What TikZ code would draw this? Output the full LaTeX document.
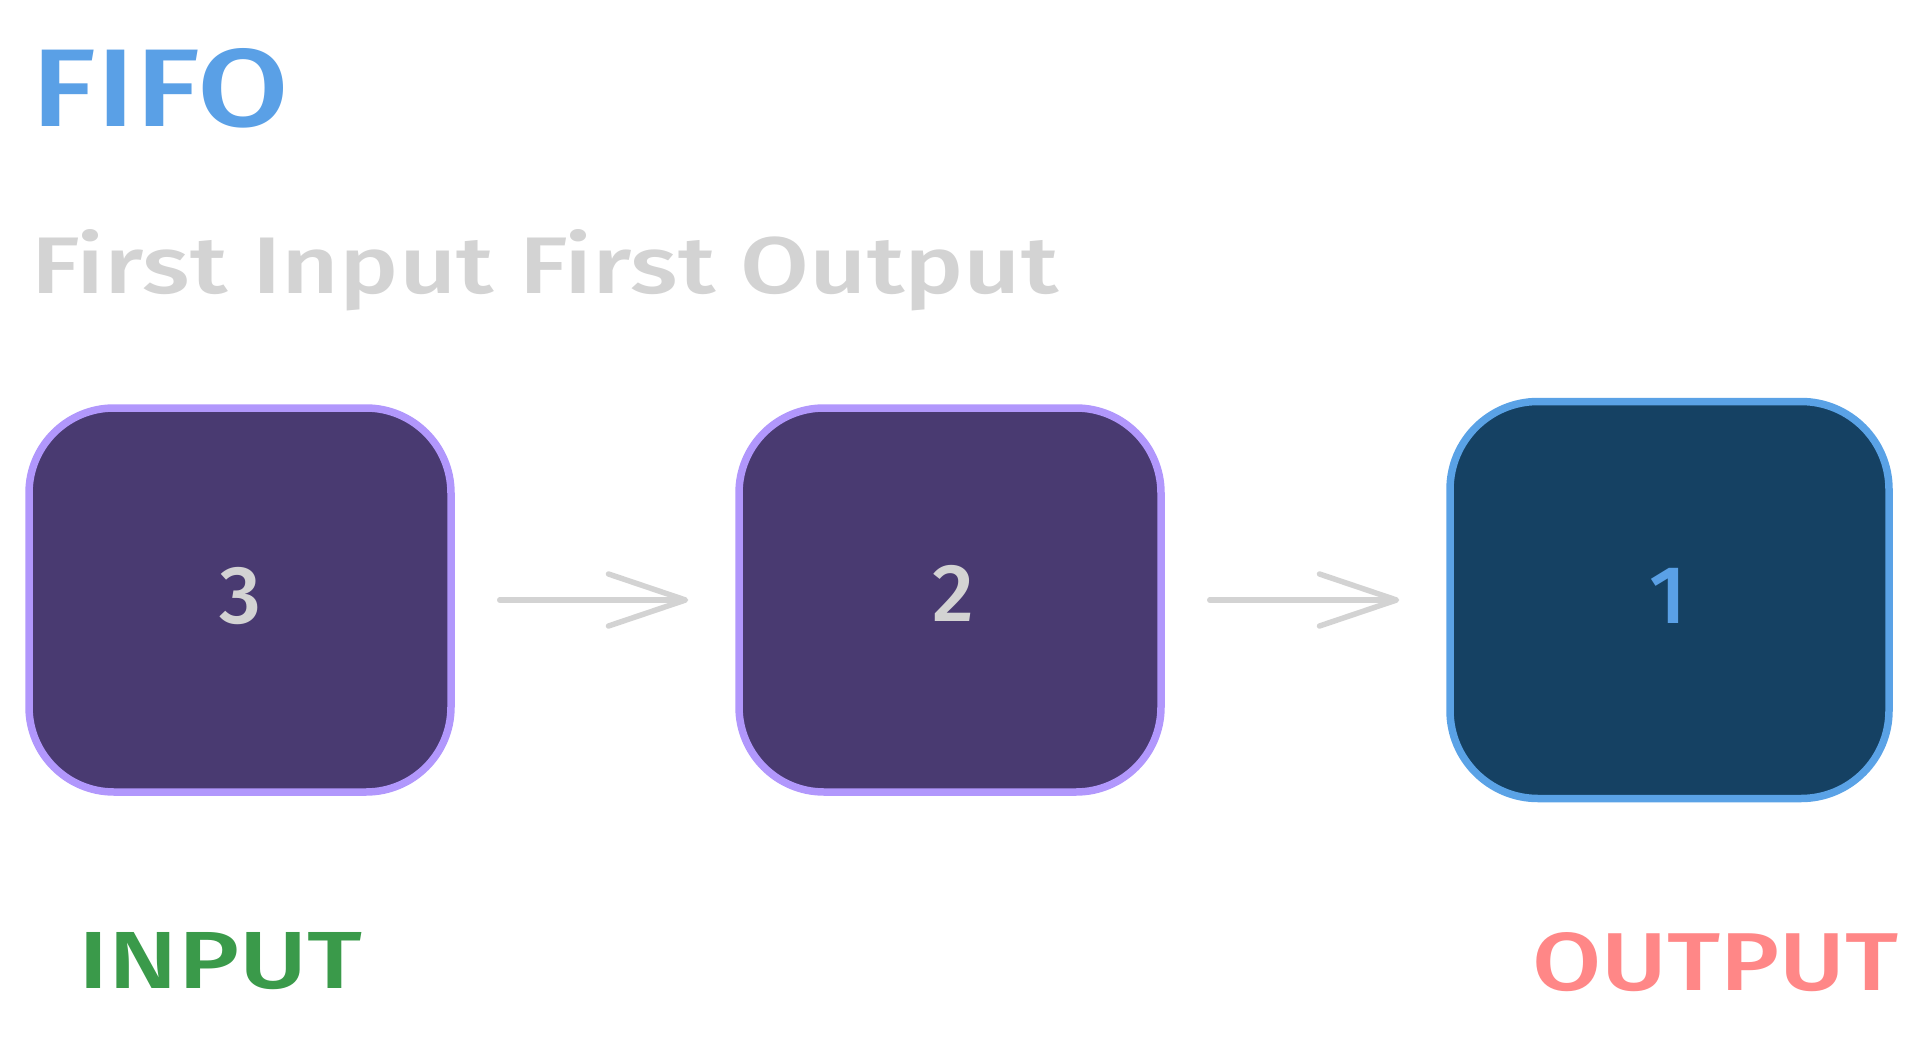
\documentclass[tikz,border=0pt]{standalone}
\usepackage{fontspec}
\setmainfont{Fira Sans}
\newfontfamily\medfont{Fira Sans}[UprightFont={* Medium}]
\usetikzlibrary{arrows.meta}
\definecolor{titleblue}{HTML}{5AA0E6}
\definecolor{subgray}{HTML}{D3D3D3}
\definecolor{violetfill}{HTML}{493A71}
\definecolor{violetline}{HTML}{B197FC}
\definecolor{navyfill}{HTML}{154163}
\definecolor{blueline}{HTML}{5AA2E6}
\definecolor{ingreen}{HTML}{3A9A4A}
\definecolor{outred}{HTML}{FF8787}
\tikzset{
  qbox/.style={draw=violetline, fill=violetfill, line width=7.5pt, rounded corners=85pt,
    minimum width=422pt, minimum height=384pt, inner sep=0pt},
  qboxout/.style={draw=blueline, fill=navyfill, line width=7.5pt, rounded corners=88pt,
    minimum width=439pt, minimum height=397pt, inner sep=0pt},
  digit/.style={font=\fontsize{82}{82}\selectfont\medfont, inner sep=0pt},
  flow/.style={draw=subgray, line width=5.5pt, line cap=round,
    -{Straight Barb[length=77pt, width=52pt, line width=5.5pt, round]},
    shorten <=45pt, shorten >=47pt},
  txt/.style={inner sep=0pt, anchor=base west, font=\medfont}
}
\begin{document}
\begin{tikzpicture}[x=1pt,y=-1pt]
\useasboundingbox (0,0) rectangle (1929,1051);
% title
\node[txt, text=titleblue] (title) at (31,127) {\resizebox{258pt}{78pt}{FIFO}};
\node[txt, text=subgray] (sub) at (31,293) {\resizebox{1027pt}{64pt}{First Input First Output}};
% boxes
\node[qbox] (b3) at (240,600) {};
\node[qbox] (b2) at (950,600) {};
\node[qboxout] (b1) at (1669.5,600) {};
\node[digit, text=subgray] (d3) at (240,596) {3};
\node[digit, text=subgray] (d2) at (953,593) {2};
\node[digit, text=titleblue] (d1) at (1668,596) {1};
% arrows
\draw[flow] (b3.east) -- (b2.west);
\draw[flow] (b2.east) -- (b1.west);
% bottom labels
\node[txt, text=ingreen] (in) at (78,988) {\resizebox{284pt}{56pt}{INPUT}};
\node[txt, text=outred] (out) at (1532,990) {\resizebox{366pt}{58pt}{OUTPUT}};
\end{tikzpicture}
\end{document}
